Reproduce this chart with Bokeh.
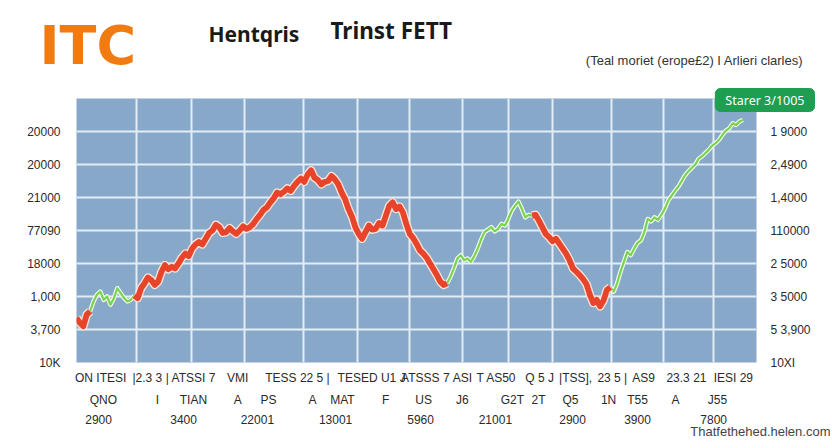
from bokeh.plotting import figure
from bokeh.models import FixedTicker, LinearAxis, Range1d, Title
from bokeh.embed import file_html
from bokeh.resources import INLINE

# ---------------- data ----------------
days = list(range(0, 197))
prices = [12700, 12400, 12200, 12900, 13100, 13700, 14100, 14300, 13800, 14000,
          13500, 13900, 14500, 14200, 13900, 13700, 13800, 14050, 13900, 14500,
          14800, 15150, 15000, 14700, 14900, 15500, 15900, 15650, 15800, 15700,
          16000, 16350, 16600, 16450, 16900, 17150, 17300, 17150, 17500, 17850,
          18000, 18350, 18200, 17850, 17900, 18150, 17950, 17800, 18000, 18250,
          18100, 18200, 18400, 18700, 18950, 19250, 19400, 19700, 19950, 20300,
          20200, 20350, 20550, 20400, 20700, 20950, 21150, 20950, 21400, 21650,
          21200, 21050, 20800, 20950, 21000, 21300, 21100, 20800, 20300, 19900,
          19300, 18850, 18200, 17800, 17500, 17900, 18300, 18050, 18100, 18450,
          18300, 18900, 19500, 19700, 19300, 19450, 19100, 18400, 17800, 17550,
          17200, 16800, 16600, 16350, 16000, 15650, 15300, 14900, 14700, 14800,
          15200, 15700, 16300, 16500, 16200, 16300, 16100, 16450, 16900, 17450,
          17900, 18050, 18200, 17950, 18100, 18400, 18300, 18700, 19200, 19500,
          19750, 19300, 18800, 18950, 18900, 18950, 18600, 18200, 17800, 17600,
          17350, 17500, 17200, 16900, 16600, 16200, 15700, 15500, 15300, 15050,
          14750, 14100, 13600, 13800, 13400, 13750, 14400, 14550, 14300, 14800,
          15500, 16100, 16700, 16500, 16900, 17250, 17400, 17900, 18700, 18550,
          18800, 18650, 18950, 19300, 19800, 20100, 20400, 20650, 21000, 21350,
          21600, 21800, 22000, 22350, 22500, 22700, 22900, 23150, 23300, 23500,
          23800, 24050, 24200, 24500, 24400, 24600, 24700]
signal = (["sell"] * 4 + ["buy"] * 13 + ["sell"] * 92 + ["buy"] * 25
          + ["sell"] * 23 + ["buy"] * 40)

y_ticks = [10000, 12000, 14000, 16000, 18000, 20000, 22000, 24000]
y_left_labels = ["10K", "3,700", "1,000", "18000", "77090", "21000", "20000", "20000"]
y_right_labels = ["10XI", "5 3,900", "3 5000", "2 5000", "110000", "1,4000", "2,4900", "1 9000"]

x_grid = [17.6, 33.8, 49.4, 66.8, 82.6, 97.9, 113.5, 127.1, 140.0, 157.4, 172.6, 187.4]

row1_pos = [7.1, 21.8, 34.4, 47.4, 65.0, 86.8, 102.6, 113.5, 123.5, 136.2, 146.8, 157.6, 166.8, 179.4, 193.2]
row1_labels = ["ON ITESI", "|2.3 3 |", "ATSSI 7", "VMI", "TESS 22 5 |", "TESED U1 J", "ATSSS 7",
               "ASI", "T AS50", "Q 5 J", "|TSS],", "23 5 |", "AS9", "23.3 21", "IESI 29"]
row2_pos = [7.9, 23.8, 34.4, 47.4, 56.5, 69.4, 78.2, 90.9, 102.1, 113.5, 128.2, 135.9, 145.3, 156.5, 165.0, 176.2, 188.5]
row2_labels = ["QNO", "I", "TIAN", "A", "PS", "A", "MAT", "F", "US", "J6", "G2T", "2T", "Q5", "1N", "T55", "A", "J55"]
row3_pos = [6.5, 31.5, 53.2, 76.2, 101.2, 123.2, 145.9, 165.0, 187.4]
row3_labels = ["2900", "3400", "22001", "13001", "5960", "21001", "2900", "3900", "7800"]

title_main = "ITC"
title_words = ["Hentqris", "Trinst FETT"]
subtitle = "(Teal moriet (erope\u00a32)  I  Arlieri clarles)"
badge_text = "Starer 3/1005"
footer = "Thatfethehed.helen.com"

# ---------------- figure ----------------
FONT = "Liberation Sans"
W, H = 830, 446
FL, FR, FT, FB = 76, 756, 98, 362   # frame edges in page pixels

p = figure(width=W, height=H, output_backend="svg", toolbar_location=None, title=None,
           x_range=Range1d(0, 200), y_range=Range1d(10000, 26000),
           min_border_left=FL, min_border_right=W - FR,
           min_border_top=FT, min_border_bottom=H - FB)
p.outline_line_color = None
p.background_fill_color = "#87a8c8"
p.border_fill_color = "white"

p.xgrid.ticker = FixedTicker(ticks=x_grid)
p.ygrid.ticker = FixedTicker(ticks=y_ticks)
for g in (p.xgrid, p.ygrid):
    g.grid_line_color = "#e2edf8"
    g.grid_line_width = 2


def style_axis(ax, standoff, size="12px"):
    ax.axis_line_color = None
    ax.major_tick_line_color = None
    ax.minor_tick_line_color = None
    ax.major_tick_out = 0
    ax.major_tick_in = 0
    ax.major_label_standoff = standoff
    ax.major_label_text_font = FONT
    ax.major_label_text_font_size = size
    ax.major_label_text_color = "#2a2a2a"


p.yaxis.ticker = FixedTicker(ticks=y_ticks)
p.yaxis.major_label_overrides = dict(zip(y_ticks, y_left_labels))
style_axis(p.yaxis[0], 16)
right = LinearAxis(ticker=FixedTicker(ticks=y_ticks),
                   major_label_overrides=dict(zip(y_ticks, y_right_labels)))
style_axis(right, 14)
p.add_layout(right, "right")

p.xaxis.ticker = FixedTicker(ticks=row1_pos)
p.xaxis.major_label_overrides = dict(zip(row1_pos, row1_labels))
style_axis(p.xaxis[0], 8)
ax2 = LinearAxis(ticker=FixedTicker(ticks=row2_pos),
                 major_label_overrides=dict(zip(row2_pos, row2_labels)))
style_axis(ax2, 5)
p.add_layout(ax2, "below")
ax3 = LinearAxis(ticker=FixedTicker(ticks=row3_pos),
                 major_label_overrides=dict(zip(row3_pos, row3_labels)))
style_axis(ax3, 5)
p.add_layout(ax3, "below")

# ---------------- line, coloured by signal ----------------
xs_r, ys_r, xs_g, ys_g = [], [], [], []
n = len(days)
i = 0
while i < n - 1:
    j = i
    while j < n - 1 and signal[j] == signal[i]:
        j += 1
    seg_x, seg_y = days[i:j + 1], prices[i:j + 1]
    if signal[i] == "sell":
        xs_r.append(seg_x); ys_r.append(seg_y)
    else:
        xs_g.append(seg_x); ys_g.append(seg_y)
    i = j

p.multi_line(xs_g, ys_g, line_color="#f2fbea", line_width=4.5, line_join="round")
p.multi_line(xs_g, ys_g, line_color="#78d450", line_width=2.2, line_join="round")
p.multi_line(xs_r, ys_r, line_color="#fbe3d8", line_width=8.5, line_join="round")
p.multi_line(xs_r, ys_r, line_color="#e8442b", line_width=5.8, line_join="round")

# ---------------- header (stacked titles above the frame) ----------------
# (text, style kwargs, target bottom of text box in page px, estimated text box height)
header = [
    (badge_text, dict(align="right", offset=FR - 814, text_font="Noto Sans", text_font_size="12.5px",
                      text_color="white", text_font_style="normal", background_fill_color="#1d9e50",
                      border_line_color="#1d9e50", border_radius=5,
                      padding=dict(left=10, right=10, top=3, bottom=3)), 117, 24),
    (subtitle, dict(align="right", offset=FR - 810, text_font=FONT, text_font_size="13px",
                    text_color="#333333", text_font_style="normal"), 66.5, 15),
    (title_main, dict(align="left", offset=39 - FL, text_font="DejaVu Sans", text_font_size="54px",
                      text_color="#f07b12", text_font_style="bold"), 74.5, 63),
    (title_words[0], dict(align="left", offset=208 - FL, text_font="Noto Sans", text_font_size="21px",
                          text_color="#1a1a1a", text_font_style="bold"), 44.5, 25),
    (title_words[1], dict(align="left", offset=330 - FL, text_font="Noto Sans", text_font_size="22.5px",
                          text_color="#1a1a1a", text_font_style="bold"), 44.5, 27),
]
B = FT
SP_H = 3
for text, kw, t, h in header:
    min_b = t - (2 + h) / 2
    if B > min_b + 0.5:
        gap = B - min_b
        p.add_layout(Title(text=" ", text_font_size="2px", standoff=gap - 2 - SP_H), "above")
        B = min_b
    s = max(2 * (B - t), -(2 + h))
    p.add_layout(Title(text=text, vertical_align="bottom", standoff=s, **kw), "above")
    B -= (2 + h + s)

p.add_layout(Title(text=footer, align="right", offset=FR - 830, text_font=FONT,
                   text_font_size="13px", text_color="#444444", text_font_style="normal",
                   standoff=-10), "below")

open("out.html", "w").write(file_html(p, INLINE))
